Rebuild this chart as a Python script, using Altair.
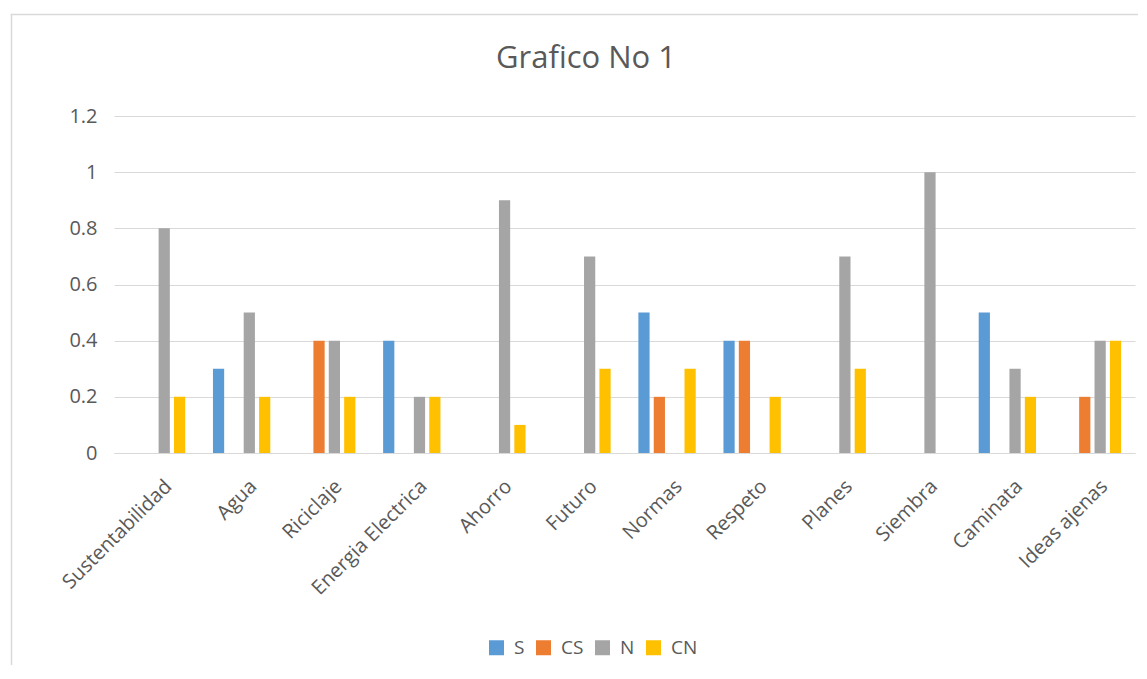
import altair as alt
import pandas as pd

categories = ["Sustentabilidad", "Agua", "Riciclaje", "Energia Electrica", "Ahorro", "Futuro",
              "Normas", "Respeto", "Planes", "Siembra", "Caminata", "Ideas ajenas"]
s_vals = [0, 0.3, 0, 0.4, 0, 0, 0.5, 0.4, 0, 0, 0.5, 0]
cs_vals = [0, 0, 0.4, 0, 0, 0, 0.2, 0.4, 0, 0, 0, 0.2]
n_vals = [0.8, 0.5, 0.4, 0.2, 0.9, 0.7, 0, 0, 0.7, 1.0, 0.3, 0.4]
cn_vals = [0.2, 0.2, 0.2, 0.2, 0.1, 0.3, 0.3, 0.2, 0.3, 0, 0.2, 0.4]
series = ["S", "CS", "N", "CN"]
colors = ["#5B9BD5", "#ED7D31", "#A5A5A5", "#FFC000"]
y_ticks = [0, 0.2, 0.4, 0.6, 0.8, 1, 1.2]
title_text = "Grafico No 1"

rows = []
for name, vals in zip(series, [s_vals, cs_vals, n_vals, cn_vals]):
    for c, v in zip(categories, vals):
        rows.append({"Categoria": c, "Serie": name, "Valor": v})
df = pd.DataFrame(rows)

TXT = "#595959"
GRID = "#D9D9D9"

bars = alt.Chart(df).mark_bar().encode(
    x=alt.X("Categoria:N", sort=categories,
            scale=alt.Scale(paddingInner=0.326, paddingOuter=0.163),
            axis=alt.Axis(title=None, labelAngle=-45, labelAlign="right", labelBaseline="middle",
                          labelPadding=30, labelOffset=12, ticks=False, domainColor=GRID,
                          labelFontSize=20, labelColor=TXT, labelLimit=400, grid=False)),
    xOffset=alt.XOffset("Serie:N", sort=series, scale=alt.Scale(paddingInner=0.27, paddingOuter=0)),
    y=alt.Y("Valor:Q", scale=alt.Scale(domain=[0, 1.2], nice=False),
            axis=alt.Axis(title=None, values=y_ticks, format="~g", ticks=False, domain=False,
                          labelPadding=17, gridColor=GRID, labelFontSize=20, labelColor=TXT)),
    color=alt.Color("Serie:N", sort=series, scale=alt.Scale(domain=series, range=colors),
                    legend=alt.Legend(title=None, orient="none", direction="horizontal",
                                      legendX=373, legendY=522, symbolType="square",
                                      symbolSize=225, symbolStrokeWidth=0, labelFontSize=19,
                                      labelColor=TXT, labelOffset=8, columnPadding=9, padding=0)),
)

frame = pd.DataFrame({"k": [0]})
top_rule = alt.Chart(frame).mark_rule(color=GRID, strokeWidth=1.5).encode(
    x=alt.value(-103.25), x2=alt.value(1024), y=alt.value(-101.5))
left_rule = alt.Chart(frame).mark_rule(color=GRID, strokeWidth=1.5).encode(
    x=alt.value(-102.5), y=alt.value(-102.25), y2=alt.value(549))
title = alt.Chart(frame).mark_text(text=title_text, fontSize=31, color=TXT, align="center",
                                   baseline="alphabetic").encode(
    x=alt.value(472), y=alt.value(-48))

chart = alt.layer(bars, top_rule, left_rule, title).properties(
    width=1021, height=337,
    padding={"left": 2, "top": 5, "right": 0, "bottom": 0},
).configure(font="Open Sans").configure_view(stroke=None)

chart.save("out.html", embed_options={"renderer": "svg", "actions": False})
